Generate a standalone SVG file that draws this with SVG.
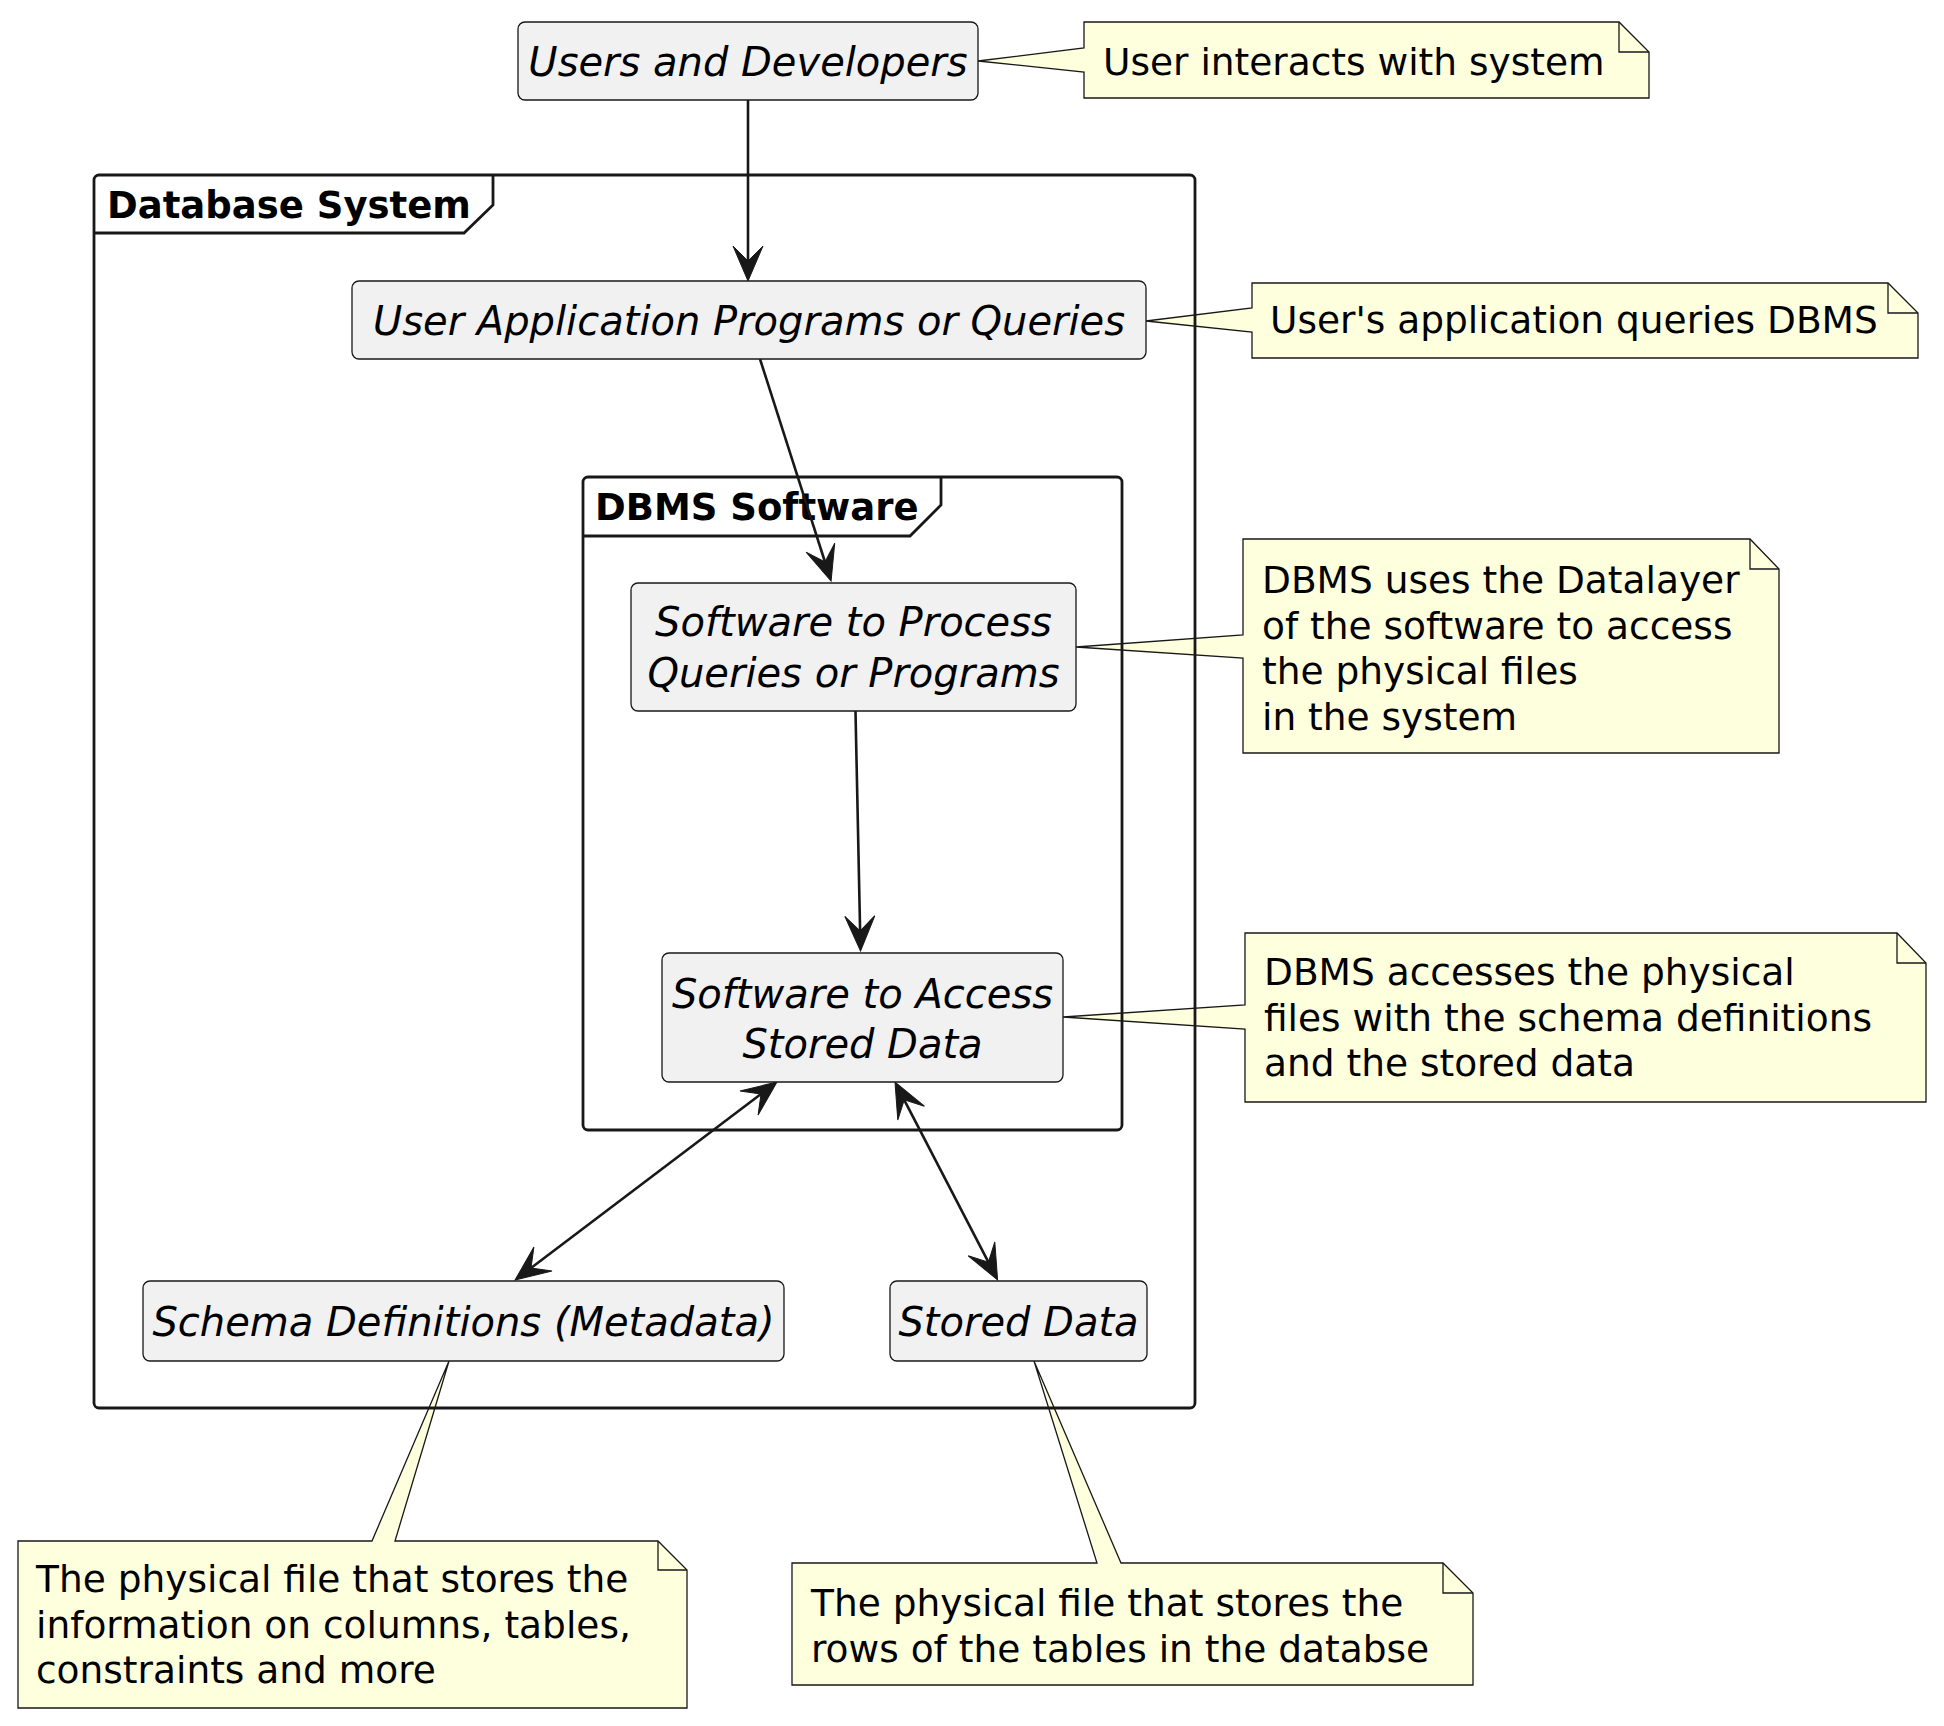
<svg xmlns="http://www.w3.org/2000/svg" width="1944" height="1726" viewBox="0 0 1944 1726">
<defs>
<style>
.frame{fill:none;stroke:#181818;stroke-width:2.8}
.ftitle{font-family:"DejaVu Sans","Liberation Sans",sans-serif;font-weight:bold;font-size:37px;fill:#000}
.node rect{fill:#F1F1F1;stroke:#181818;stroke-width:1.3}
.ntext{font-family:"DejaVu Sans","Liberation Sans",sans-serif;font-style:italic;font-size:40px;fill:#000;text-anchor:middle}
.note path{fill:#FEFFDD;stroke:#181818;stroke-width:1.3;stroke-linejoin:miter}
.note .fold{fill:none}
.notetext{font-family:"DejaVu Sans","Liberation Sans",sans-serif;font-size:37.5px;fill:#000}
.edge{fill:none;stroke:#181818;stroke-width:2.6}
</style>
<marker id="ah" markerUnits="userSpaceOnUse" markerWidth="40" markerHeight="40" refX="0" refY="0" orient="auto-start-reverse" overflow="visible">
<path d="M20,0 L-15,-15 L0,0 L-15,15 Z" fill="#181818" stroke="#181818" stroke-width="1"/>
</marker>
</defs>
<rect width="1944" height="1726" fill="#FFFFFF"/>

<g id="note-users" class="note">
<path d="M1084,22 L1619,22 L1649,52 L1649,98 L1084,98 L1084,72 L978,61 L1084,48 Z"/>
<path class="fold" d="M1619,22 L1619,52 L1649,52"/>
<text class="notetext" x="1103" y="75">User interacts with system</text>
</g>
<g id="note-userapp" class="note">
<path d="M1252,283 L1888,283 L1918,313 L1918,358 L1252,358 L1252,332 L1146,321 L1252,308 Z"/>
<path class="fold" d="M1888,283 L1888,313 L1918,313"/>
<text class="notetext" x="1270" y="333">User's application queries DBMS</text>
</g>
<g id="note-process" class="note">
<path d="M1243,539 L1750,539 L1779,569 L1779,753 L1243,753 L1243,658 L1076,647 L1243,635 Z"/>
<path class="fold" d="M1750,539 L1750,569 L1779,569"/>
<text class="notetext" x="1262" y="593">DBMS uses the Datalayer</text>
<text class="notetext" x="1262" y="638.7">of the software to access</text>
<text class="notetext" x="1262" y="684.4">the physical files</text>
<text class="notetext" x="1262" y="730">in the system</text>
</g>
<g id="note-access" class="note">
<path d="M1245,933 L1897,933 L1926,963 L1926,1102 L1245,1102 L1245,1029 L1063,1017 L1245,1005 Z"/>
<path class="fold" d="M1897,933 L1897,963 L1926,963"/>
<text class="notetext" x="1264" y="985">DBMS accesses the physical</text>
<text class="notetext" x="1264" y="1030.7">files with the schema definitions</text>
<text class="notetext" x="1264" y="1076.4">and the stored data</text>
</g>
<g id="note-schema" class="note">
<path d="M18,1541 L372,1541 L449,1361 L395,1541 L658,1541 L687,1570 L687,1708 L18,1708 Z"/>
<path class="fold" d="M658,1541 L658,1570 L687,1570"/>
<text class="notetext" x="36" y="1592">The physical file that stores the</text>
<text class="notetext" x="36" y="1637.7">information on columns, tables,</text>
<text class="notetext" x="36" y="1683.4">constraints and more</text>
</g>
<g id="note-stored" class="note">
<path d="M792,1563 L1097,1563 L1034,1361 L1121,1563 L1443,1563 L1473,1593 L1473,1685 L792,1685 Z"/>
<path class="fold" d="M1443,1563 L1443,1593 L1473,1593"/>
<text class="notetext" x="811" y="1616">The physical file that stores the</text>
<text class="notetext" x="811" y="1661.7">rows of the tables in the databse</text>
</g>

<g id="frame-database-system">
<rect class="frame" x="94" y="175" width="1101" height="1233" rx="5"/>
<path class="frame" d="M94,233 L464,233 L493,205 L493,175"/>
<text class="ftitle" x="107" y="218">Database System</text>
</g>
<g id="frame-dbms-software">
<rect class="frame" x="583" y="477" width="539" height="653" rx="5"/>
<path class="frame" d="M583,536 L910,536 L941,505 L941,477"/>
<text class="ftitle" x="595" y="520">DBMS Software</text>
</g>

<g id="connectors">
<line class="edge" x1="748" y1="100" x2="748" y2="261" marker-end="url(#ah)"/>
<line class="edge" x1="760" y1="359" x2="825" y2="562" marker-end="url(#ah)"/>
<line class="edge" x1="855.5" y1="711" x2="860.1" y2="931" marker-end="url(#ah)"/>
<line class="edge" x1="761" y1="1094" x2="531" y2="1268" marker-start="url(#ah)" marker-end="url(#ah)"/>
<line class="edge" x1="904.2" y1="1099.8" x2="988.4" y2="1262.2" marker-start="url(#ah)" marker-end="url(#ah)"/>
</g>

<g id="node-users" class="node">
<rect x="518" y="22" width="460" height="78" rx="7"/>
<text class="ntext" x="748" y="75.5">Users and Developers</text>
</g>
<g id="node-userapp" class="node">
<rect x="352" y="281" width="794" height="78" rx="7"/>
<text class="ntext" x="749" y="334.5">User Application Programs or Queries</text>
</g>
<g id="node-process" class="node">
<rect x="631" y="583" width="445" height="128" rx="7"/>
<text class="ntext" x="853.5" y="636">Software to Process</text>
<text class="ntext" x="853.5" y="686.7">Queries or Programs</text>
</g>
<g id="node-access" class="node">
<rect x="662" y="953" width="401" height="129" rx="7"/>
<text class="ntext" x="862.5" y="1007.5">Software to Access</text>
<text class="ntext" x="862.5" y="1057.5">Stored Data</text>
</g>
<g id="node-schema" class="node">
<rect x="143" y="1281" width="641" height="80" rx="7"/>
<text class="ntext" x="463.5" y="1335.5">Schema Definitions (Metadata)</text>
</g>
<g id="node-stored" class="node">
<rect x="890" y="1281" width="257" height="80" rx="7"/>
<text class="ntext" x="1018.5" y="1335.5">Stored Data</text>
</g>
</svg>
